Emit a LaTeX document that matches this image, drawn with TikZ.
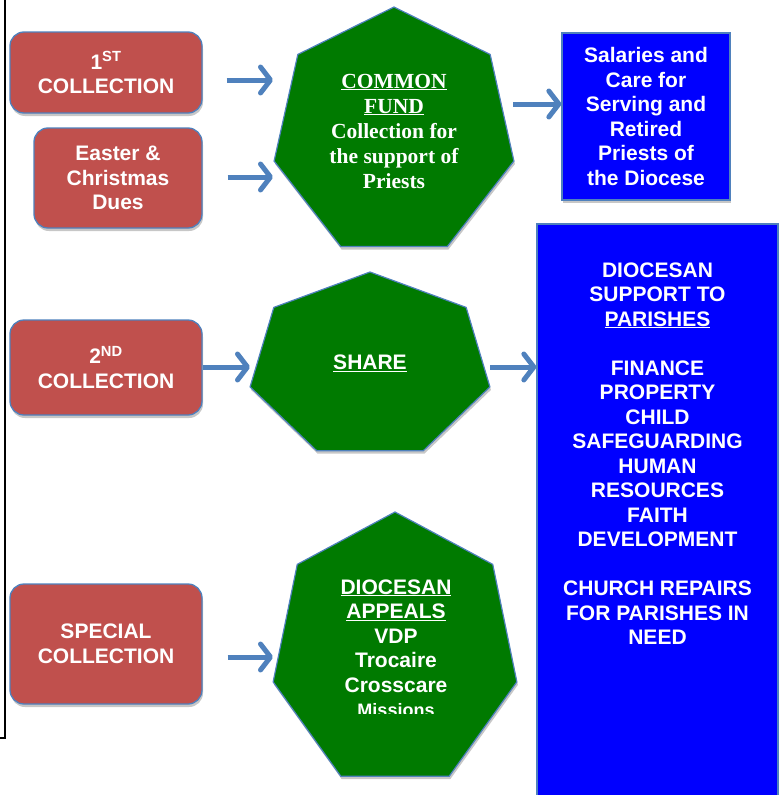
\documentclass[tikz,border=0pt]{standalone}
\usepackage{fontspec}
\setsansfont{Liberation Sans}
\newfontfamily\fundfont{Liberation Serif}
\usetikzlibrary{shadows}
\usetikzlibrary{arrows.meta}

\definecolor{boxred}{RGB}{192,80,77}
\definecolor{edgeblue}{RGB}{79,129,189}
\definecolor{fundgreen}{RGB}{0,122,0}
\definecolor{pureblue}{RGB}{0,0,255}

\begin{document}
\begin{tikzpicture}[x=1pt, y=-1pt,
   every node/.style={text=white, align=center, font=\sffamily\bfseries\fontsize{21}{24.5}\selectfont},
   softshadow/.style={drop shadow={shadow xshift=1pt, shadow yshift=-3pt, opacity=0.22, fill=black}},
   collect/.style={draw=edgeblue, line width=1.3pt, fill=boxred, rounded corners=14pt, softshadow},
   bluebox/.style={draw=edgeblue, line width=1.3pt, fill=pureblue, softshadow},
   hept/.style={draw=edgeblue, line width=1.2pt, fill=fundgreen, softshadow},
   flow/.style={draw=edgeblue, line width=5pt, -{Straight Barb[round, length=10pt, width=26pt]}}]
   \useasboundingbox (0,0) rectangle (784,795);
   \draw[line width=1.2pt] (5,0) -- (5,738) -- (0,738);

   % collections
   \node[collect, minimum width=192pt, minimum height=81pt] (col1) at (106,72.5) {1\textsuperscript{ST}\\COLLECTION};
   \node[collect, minimum width=168pt, minimum height=100pt] (dues) at (118,178) {Easter \&\\Christmas\\Dues};
   \node[collect, minimum width=192pt, minimum height=95pt] (col2) at (106,367.5) {2\textsuperscript{ND}\\COLLECTION};
   \node[collect, minimum width=192pt, minimum height=120pt] (special) at (106,644) {SPECIAL\\COLLECTION};

   % heptagons
   \foreach \cx/\cy/\rx/\ry in {394/133/123/126, 370/366/123/94, 395/651/125/139}
      \filldraw[hept, shift={(\cx,\cy)}] (-90:{\rx} and {\ry})
         foreach \k in {1,...,6}{ -- ({-90+\k*360/7}:{\rx} and {\ry})} -- cycle;
   \node[font=\fundfont\bfseries\fontsize{21.5}{25}\selectfont] (fund) at (394,131)
      {\underline{COMMON}\\\underline{FUND}\\Collection for\\the support of\\Priests};
   \node (share) at (370,363) {\underline{SHARE}};
   \begin{scope}
      \clip (280,560) rectangle (510,713);
      \node (appeals) at (396,648) {\underline{DIOCESAN}\\\underline{APPEALS}\\VDP\\Trocaire\\Crosscare\\{\fontsize{18}{20}\selectfont Missions}};
   \end{scope}

   % where the money goes
   \node[bluebox, minimum width=168pt, minimum height=167pt] (salary) at (646,116.5)
      {Salaries and\\Care for\\Serving and\\Retired\\Priests of\\the Diocese};
   \node[bluebox, minimum width=241pt, minimum height=572pt] (parishbox) at (657.5,510) {};
   \node (parishes) at (657.5,453.5) {DIOCESAN\\SUPPORT TO\\\underline{PARISHES}\\[24.5pt]FINANCE\\PROPERTY\\CHILD\\SAFEGUARDING\\HUMAN\\RESOURCES\\FAITH\\DEVELOPMENT\\[24.5pt]CHURCH REPAIRS\\FOR PARISHES IN\\NEED};

   % arrows
   \coordinate (fund in1) at (273,80);
   \coordinate (fund in2) at (273,177);
   \coordinate (share in) at (250,367);
   \coordinate (appeals in) at (273,657);
   \coordinate (fund out) at (513,104);
   \coordinate (share out) at (490,367);
   \draw[flow, shorten <=24pt] (col1.east |- fund in1) -- (fund in1);
   \draw[flow, shorten <=25pt] (dues.east |- fund in2) -- (fund in2);
   \draw[flow] (col2.east |- share in) -- (share in);
   \draw[flow, shorten <=25pt] (special.east |- appeals in) -- (appeals in);
   \draw[flow] (fund out) -- (fund out -| salary.west);
   \draw[flow] (share out) -- (share out -| parishbox.west);
\end{tikzpicture}
\end{document}
